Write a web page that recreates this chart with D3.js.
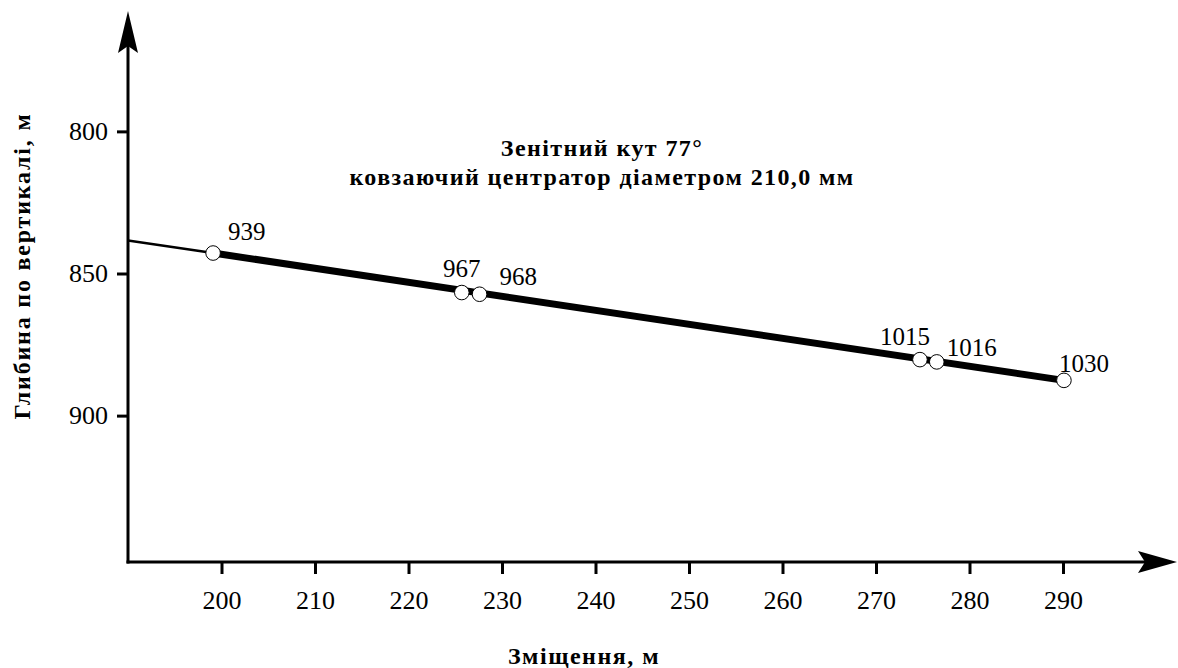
<!DOCTYPE html>
<html>
<head>
<meta charset="utf-8">
<script src="https://cdn.jsdelivr.net/npm/d3@7"></script>
<style>
  body { margin: 0; background: #fff; }
  svg text { font-family: "Liberation Serif", "Times New Roman", serif; fill: #000; }
</style>
</head>
<body>
<svg id="chart" width="1178" height="668"></svg>
<script>
// measured depth of each centralizer point (labels on the line)
var labels = ["939", "967", "968", "1015", "1016", "1030"];
// horizontal offset, m
var offsets = [199.1, 225.7, 227.6, 274.7, 276.5, 290.1];
// vertical depth, m
var depths = [842.8, 856.7, 857.3, 880.3, 881.1, 887.6];
// where the thin part of the well line leaves the y axis
var lineStart = [190, 838.4];

var xTicks = [200, 210, 220, 230, 240, 250, 260, 270, 280, 290];
var yTicks = [800, 850, 900];

var titleLines = ["Зенітний кут 77°", "ковзаючий центратор діаметром 210,0 мм"];
var xTitle = "Зміщення, м";
var yTitle = "Глибина по вертикалі, м";

// label nudges, px: [dx, dy, anchor]
var labelPos = [
    [15, -12.6, "start"],
    [0, -16, "middle"],
    [20, -9.3, "start"],
    [10, -15, "end"],
    [10, -5.6, "start"],
    [-5, -8.7, "start"]
];

var serif = "'Liberation Serif', 'Times New Roman', serif";
var svg = d3.select("#chart");

var x = d3.scaleLinear().domain([190, 302.3]).range([128, 1178]);
var y = d3.scaleLinear().domain([758, 951.5]).range([12, 562]);

var x0 = x(190), y0 = y(951.5);

// axis lines
svg.append("line")
    .attr("x1", x0).attr("y1", y0 + 1.5)
    .attr("x2", x0).attr("y2", 45)
    .attr("stroke", "#000").attr("stroke-width", 3);
svg.append("line")
    .attr("x1", x0 - 1.5).attr("y1", y0)
    .attr("x2", 1150).attr("y2", y0)
    .attr("stroke", "#000").attr("stroke-width", 3);

// arrow heads
svg.append("path")
    .attr("d", "M" + x0 + ",11 L" + (x0 + 10) + ",53 L" + x0 + ",46 L" + (x0 - 10) + ",53 Z")
    .attr("fill", "#000");
svg.append("path")
    .attr("d", "M1177," + y0 + " L1138," + (y0 - 11) + " L1145," + y0 + " L1138," + (y0 + 11) + " Z")
    .attr("fill", "#000");

// x axis ticks
var xAxis = d3.axisBottom(x).tickValues(xTicks).tickSize(12).tickPadding(17);
var gx = svg.append("g").attr("transform", "translate(0," + y0 + ")").call(xAxis);
gx.attr("font-family", serif);
gx.select(".domain").remove();
gx.selectAll(".tick line").attr("stroke", "#000").attr("stroke-width", 3);
gx.selectAll(".tick text")
    .attr("font-family", serif)
    .style("font-size", "26px");

// y axis ticks
var yAxis = d3.axisLeft(y).tickValues(yTicks).tickSize(11).tickPadding(9);
var gy = svg.append("g").attr("transform", "translate(" + x0 + ",0)").call(yAxis);
gy.attr("font-family", serif);
gy.select(".domain").remove();
gy.selectAll(".tick line").attr("stroke", "#000").attr("stroke-width", 3);
gy.selectAll(".tick text")
    .attr("font-family", serif)
    .style("font-size", "26px");

// well trajectory
var pts = offsets.map(function(d, i) { return [d, depths[i]]; });
var line = d3.line().x(function(d) { return x(d[0]); }).y(function(d) { return y(d[1]); });

svg.append("path")
    .attr("d", line([lineStart, pts[0]]))
    .attr("fill", "none").attr("stroke", "#000").attr("stroke-width", 2.4);

svg.append("path")
    .attr("d", line([pts[0], pts[pts.length - 1]]))
    .attr("fill", "none").attr("stroke", "#000").attr("stroke-width", 7);

// centralizers
svg.selectAll("circle.pt")
    .data(pts)
    .enter().append("circle")
    .attr("class", "pt")
    .attr("cx", function(d) { return x(d[0]); })
    .attr("cy", function(d) { return y(d[1]); })
    .attr("r", 7.3)
    .attr("fill", "#fff")
    .attr("stroke", "#000")
    .attr("stroke-width", 1);

svg.selectAll("text.lbl")
    .data(pts)
    .enter().append("text")
    .attr("class", "lbl")
    .attr("x", function(d, i) { return x(d[0]) + labelPos[i][0]; })
    .attr("y", function(d, i) { return y(d[1]) + labelPos[i][1]; })
    .attr("text-anchor", function(d, i) { return labelPos[i][2]; })
    .style("font-size", "25px")
    .text(function(d, i) { return labels[i]; });

// title
svg.selectAll("text.title")
    .data(titleLines)
    .enter().append("text")
    .attr("class", "title")
    .attr("x", 602)
    .attr("y", function(d, i) { return 156 + i * 29; })
    .attr("text-anchor", "middle")
    .style("font-size", "24px")
    .style("font-weight", "bold")
    .style("letter-spacing", "1.4px")
    .text(function(d) { return d; });

// axis titles
svg.append("text")
    .attr("x", 584).attr("y", 664)
    .attr("text-anchor", "middle")
    .style("font-size", "24px")
    .style("font-weight", "bold")
    .style("letter-spacing", "1.5px")
    .text(xTitle);

svg.append("text")
    .attr("transform", "translate(30,266) rotate(-90)")
    .attr("text-anchor", "middle")
    .style("font-size", "24px")
    .style("font-weight", "bold")
    .style("letter-spacing", "1.8px")
    .text(yTitle);
</script>
</body>
</html>
